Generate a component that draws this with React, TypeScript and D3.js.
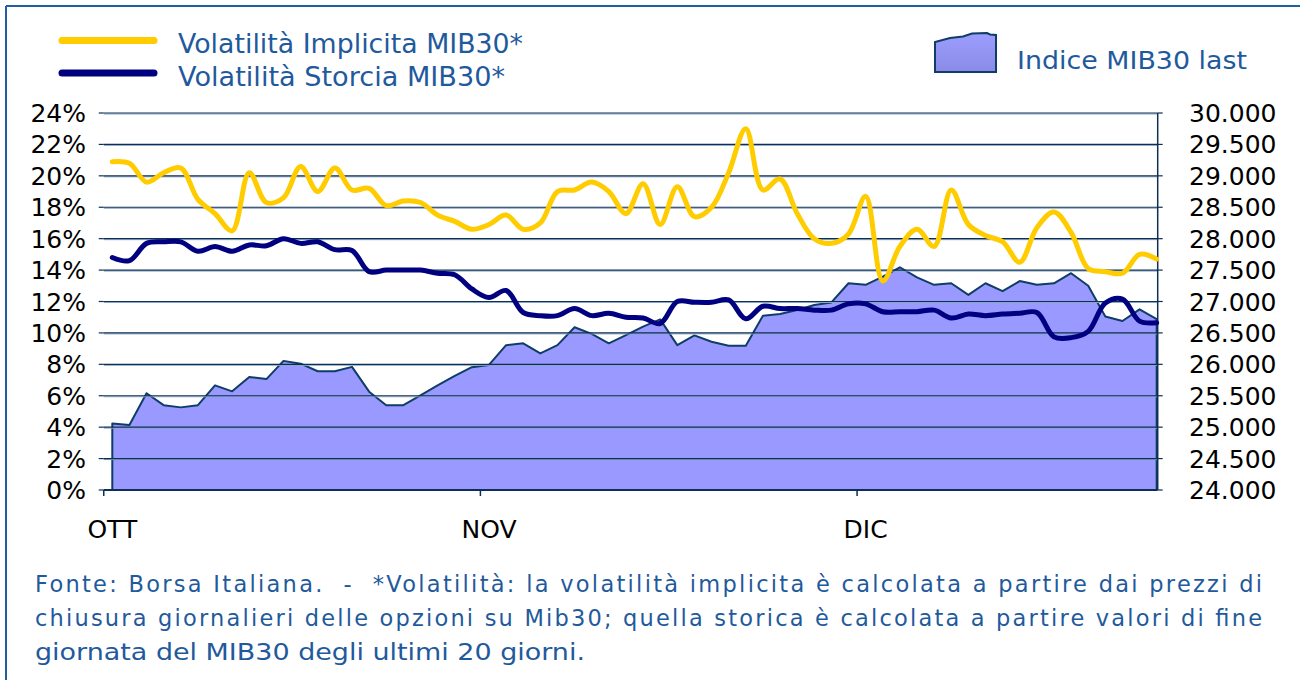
import React from "react";
import * as d3 from "d3";

// ---- Data ----
const monthLabels = ["OTT", "NOV", "DIC"];
const monthStartIndex = [0, 22, 44];

const leftTicks = [0, 0.02, 0.04, 0.06, 0.08, 0.1, 0.12, 0.14, 0.16, 0.18, 0.2, 0.22, 0.24];
const rightTicks = [24000, 24500, 25000, 25500, 26000, 26500, 27000, 27500, 28000, 28500, 29000, 29500, 30000];

const mib30Last = [
  25060, 25035, 25540, 25350, 25315, 25350, 25665, 25570, 25800, 25765,
  26055, 26010, 25890, 25890, 25960, 25565, 25350, 25350, 25505, 25665,
  25815, 25955, 25990, 26305, 26335, 26175, 26305, 26590, 26485, 26335,
  26465, 26600, 26715, 26305, 26460, 26360, 26295, 26295, 26775, 26800,
  26865, 26945, 26985, 27290, 27265, 27395, 27545, 27385, 27265, 27290,
  27105, 27290, 27165, 27325, 27265, 27290, 27450, 27250, 26760, 26690,
  26875, 26720,
];

const volImplicita = [
  20.9, 20.8, 19.6, 20.2, 20.5, 18.5, 17.6, 16.5, 20.2, 18.3,
  18.6, 20.6, 19.0, 20.5, 19.1, 19.2, 18.1, 18.4, 18.3, 17.5,
  17.1, 16.6, 16.9, 17.5, 16.6, 17.0, 19.0, 19.1, 19.6, 19.0,
  17.6, 19.5, 16.9, 19.3, 17.4, 18.0, 20.2, 23.0, 19.1, 19.8,
  17.6, 16.0, 15.7, 16.3, 18.7, 13.3, 15.5, 16.6, 15.5, 19.1,
  16.9, 16.2, 15.8, 14.5, 16.7, 17.7, 16.4, 14.1, 13.9, 13.8,
  15.0, 14.7,
];

const volStorica = [
  14.8, 14.6, 15.7, 15.8, 15.8, 15.2, 15.5, 15.2, 15.6, 15.55,
  16.0, 15.7, 15.8, 15.3, 15.25, 13.9, 14.0, 14.0, 14.0, 13.8,
  13.7, 12.8, 12.25, 12.7, 11.3, 11.1, 11.1, 11.55, 11.1, 11.25,
  11.0, 10.95, 10.6, 12.0, 11.95, 11.95, 12.1, 10.9, 11.7, 11.55,
  11.55, 11.45, 11.45, 11.85, 11.85, 11.35, 11.35, 11.35, 11.45, 10.95,
  11.2, 11.1, 11.2, 11.25, 11.3, 9.75, 9.7, 10.1, 11.9, 12.15,
  10.75, 10.65,
];

const legendLabels = ["Volatilità Implicita MIB30*", "Volatilità Storcia MIB30*", "Indice MIB30 last"];
const footnote = [
  "Fonte: Borsa Italiana.  -  *Volatilità: la volatilità implicita è calcolata a partire dai prezzi di",
  "chiusura giornalieri delle opzioni su Mib30; quella storica è calcolata a partire valori di fine",
  "giornata del MIB30 degli ultimi 20 giorni.",
];

const W = 1300;
const H = 680;
const FONT = "'DejaVu Sans', Verdana, sans-serif";
const BLUE_TEXT = "#1f5a9c";

export default function App() {
  const n = mib30Last.length;
  const x = d3.scaleLinear().domain([0, n - 1]).range([112.3, 1156.7]);
  const yL = d3.scaleLinear().domain([0, 0.24]).range([490, 113]);
  const yR = d3.scaleLinear().domain([24000, 30000]).range([490, 113]);

  const plotLeft = x(-0.5);
  const plotRight = x(n - 1) + 1;

  const idx = d3.range(n);
  const areaGen = d3
    .area<number>()
    .x((i) => x(i))
    .y0(yR(24000))
    .y1((i) => yR(mib30Last[i]));
  const areaPath = areaGen(idx) || "";
  const outline =
    "M" + x(0) + "," + yR(24000) +
    (d3.line<number>().x((i) => x(i)).y((i) => yR(mib30Last[i]))(idx) || "").replace(/^M/, "L") +
    "L" + x(n - 1) + "," + yR(24000);

  const lineGen = (arr: number[]) =>
    d3
      .line<number>()
      .x((i) => x(i))
      .y((i) => yL(arr[i] / 100))
      .curve(d3.curveCatmullRom.alpha(0.5))(idx) || "";

  const fmtPct = (v: number) => `${Math.round(v * 100)}%`;
  const fmtIt = (v: number) => d3.format(",")(v).replace(/,/g, ".");

  return (
    <svg
      width={W}
      height={H}
      style={{ position: "absolute", left: 0, top: 0, background: "#fff" }}
      fontFamily={FONT}
    >
      <defs>
        <linearGradient id="swatchGrad" x1="0" y1="0" x2="0" y2="1">
          <stop offset="0%" stopColor="#9d9dff" />
          <stop offset="100%" stopColor="#8a8ae6" />
        </linearGradient>
      </defs>
      {/* frame */}
      <line x1={6} y1={6} x2={W} y2={6} stroke="#2060a0" strokeWidth={2} />
      <line x1={6} y1={6} x2={6} y2={H} stroke="#2060a0" strokeWidth={2} />

      {/* area */}
      <path d={areaPath} fill="#9999ff" />
      <path d={outline} fill="none" stroke="#0f3d66" strokeWidth={2} strokeLinejoin="round" />

      {/* gridlines */}
      {leftTicks.slice(1).map((t) => (
        <g key={t}>
          <line x1={plotLeft} x2={plotRight} y1={yL(t) + 1} y2={yL(t) + 1} stroke="#8aa6c6" strokeWidth={1} />
          <line x1={plotLeft} x2={plotRight} y1={yL(t)} y2={yL(t)} stroke="#0d2f55" strokeWidth={1.1} />
        </g>
      ))}

      {/* right axis line & ticks */}
      <line x1={plotRight} x2={plotRight} y1={yR(30000)} y2={yR(24000)} stroke="#0d2f55" strokeWidth={1.5} />
      {rightTicks.map((t) => (
        <line key={t} x1={plotRight} x2={plotRight + 5} y1={yR(t)} y2={yR(t)} stroke="#0d2f55" strokeWidth={1.2} />
      ))}
      {/* left ticks */}
      {leftTicks.map((t) => (
        <line key={t} x1={plotLeft - 5} x2={plotLeft} y1={yL(t)} y2={yL(t)} stroke="#0d2f55" strokeWidth={1.2} />
      ))}

      {/* lines */}
      <path d={lineGen(volImplicita)} fill="none" stroke="#ffcc00" strokeWidth={5} strokeLinejoin="round" strokeLinecap="round" />
      <path d={lineGen(volStorica)} fill="none" stroke="#000080" strokeWidth={5} strokeLinejoin="round" strokeLinecap="round" />

      {/* x axis */}
      <line x1={plotLeft} x2={plotRight} y1={yL(0)} y2={yL(0)} stroke="#0d2f55" strokeWidth={2} />
      {monthStartIndex.map((m, k) => (
        <g key={m}>
          <line x1={x(m - 0.5)} x2={x(m - 0.5)} y1={yL(0)} y2={yL(0) + 6} stroke="#0d2f55" strokeWidth={1.5} />
          <text x={x(m)} y={538} textAnchor="middle" fontSize={25} fill="#000">
            {monthLabels[k]}
          </text>
        </g>
      ))}

      {/* left tick labels */}
      {leftTicks.map((t) => (
        <text key={t} x={86} y={yL(t) + 9} textAnchor="end" fontSize={25} fill="#000">
          {fmtPct(t)}
        </text>
      ))}
      {/* right tick labels */}
      {rightTicks.map((t) => (
        <text key={t} x={1189} y={yR(t) + 9} textAnchor="start" fontSize={25} fill="#000">
          {fmtIt(t)}
        </text>
      ))}

      {/* legend */}
      <line x1={62} x2={154} y1={40.5} y2={40.5} stroke="#ffcc00" strokeWidth={7} strokeLinecap="round" />
      <line x1={62} x2={154} y1={73} y2={73} stroke="#000080" strokeWidth={7} strokeLinecap="round" />
      <text x={178} y={53} fontSize={26.5} fill={BLUE_TEXT} textLength={345} lengthAdjust="spacingAndGlyphs">
        {legendLabels[0]}
      </text>
      <text x={178} y={86} fontSize={26.5} fill={BLUE_TEXT} textLength={327} lengthAdjust="spacingAndGlyphs">
        {legendLabels[1]}
      </text>
      <path
        d="M935,72 L935,42 L950,38 L963,36.5 L972,33.5 L987,33 L990,34.5 L996,35 L996,72 Z"
        fill="url(#swatchGrad)"
        stroke="#0f3d66"
        strokeWidth={2}
      />
      <text x={1017} y={69} fontSize={25} fill={BLUE_TEXT} textLength={230} lengthAdjust="spacingAndGlyphs">
        {legendLabels[2]}
      </text>

      {/* footnote */}
      <text x={35} y={592} fontSize={22.5} fill={BLUE_TEXT} textLength={1227} lengthAdjust="spacing" style={{ whiteSpace: "pre" }}>
        {footnote[0]}
      </text>
      <text x={35} y={626} fontSize={22.5} fill={BLUE_TEXT} textLength={1227} lengthAdjust="spacing" style={{ whiteSpace: "pre" }}>
        {footnote[1]}
      </text>
      <text x={35} y={660} fontSize={22.5} fill={BLUE_TEXT} textLength={550} lengthAdjust="spacingAndGlyphs">
        {footnote[2]}
      </text>
    </svg>
  );
}
